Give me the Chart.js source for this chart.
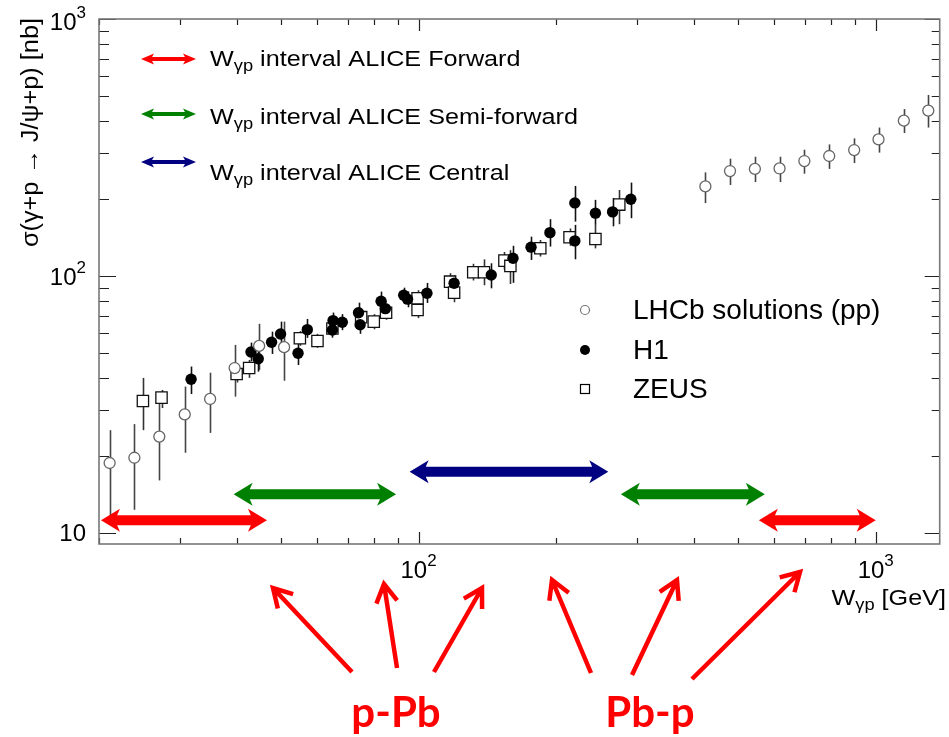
<!DOCTYPE html>
<html>
<head>
<meta charset="utf-8">
<script src="https://cdn.jsdelivr.net/npm/chart.js@4.4.1/dist/chart.umd.min.js"></script>
<style>
  html, body { margin: 0; padding: 0; background: #fff; }
  #wrap { width: 949px; height: 737px; }
</style>
</head>
<body>
<div id="wrap"><canvas class="js-chart" width="949" height="737"></canvas></div>
<script>
const ctx = document.querySelector(".js-chart").getContext("2d");

// ===== axes =====
const X_TICKS = [20, 30, 40, 50, 60, 70, 80, 90, 100, 200, 300, 400, 500, 600, 700, 800, 900, 1000];
const X_LABELS = [100, 1000];
const Y_TICKS = [10, 20, 30, 40, 50, 60, 70, 80, 90, 100, 200, 300, 400, 500, 600, 700, 800, 900, 1000];
const Y_LABELS = [10, 100, 1000];

// ===== LHCb solutions (pp) =====
const LHCB_W = [21.1, 23.9, 27.1, 30.8, 35.0, 39.6, 44.8, 50.8, 424, 480, 544, 616, 698, 791, 897, 1014, 1152, 1303];
const LHCB_SIG = [18.7, 19.6, 23.7, 28.9, 33.2, 43.8, 53.4, 52.8, 223, 256, 261, 262, 280, 293, 309, 340, 402, 440];
const LHCB_LO = [11.6, 12.3, 16.0, 20.5, 24.5, 33.9, 43.1, 39.1, 192, 226, 232, 232, 250, 261, 275, 302, 360, 378];
const LHCB_HI = [25.1, 26.5, 32.9, 37.1, 42.0, 53.9, 65.1, 66.4, 253, 286, 291, 291, 310, 325, 343, 378, 446, 506];

// ===== H1 =====
const H1_W = [31.8, 43.0, 44.6, 47.7, 49.9, 54.5, 57.1, 64.8, 65.0, 68.1, 73.9, 74.5, 82.8, 84.6, 92.8, 94.6,
  104.3, 119.6, 144.2, 160.9, 176.2, 193.8, 219.7, 219.7, 243.7, 265.7, 291.2];
const H1_SIG = [39.6, 50.6, 47.6, 55.2, 59.4, 50.0, 61.8, 61.6, 67.0, 66.0, 71.9, 64.6, 79.7, 74.6, 84.1, 81.2,
  85.6, 93.7, 100.9, 117.2, 129.4, 147.4, 136.9, 192.4, 175.5, 177.5, 198.9];
const H1_LO = [34.7, 46.5, 42.4, 49.7, 53.9, 45.0, 57.4, 57.5, 62.5, 61.5, 66.5, 59.5, 73.5, 69.5, 78.5, 75.5,
  78.5, 87.5, 89.5, 94.0, 115.4, 130.1, 116.1, 162.7, 158.0, 156.0, 167.8];
const H1_HI = [44.4, 55.0, 53.0, 60.7, 66.4, 54.8, 68.0, 66.0, 72.0, 71.0, 78.7, 70.0, 86.9, 80.0, 90.0, 87.0,
  93.9, 100.5, 112.0, 131.0, 142.2, 166.3, 158.0, 224.0, 197.7, 201.0, 230.8];

// ===== ZEUS =====
const ZEUS_W = [24.95, 27.4, 40.0, 42.6, 55.0, 60.1, 64.8, 74.9, 79.8, 84.9, 99.5, 99.5, 117.2, 119.6,
  131.7, 139.0, 154.1, 158.8, 184.6, 213.9, 243.7, 274.8];
const ZEUS_SIG = [32.6, 33.6, 41.5, 43.8, 57.2, 55.8, 62.4, 69.1, 66.4, 71.9, 73.7, 81.9, 95.0, 86.1,
  103.4, 103.4, 114.7, 109.4, 128.2, 141.5, 139.3, 189.5];
const ZEUS_LO = [25.1, 30.6, 38.5, 40.1, 53.5, 52.5, 59.0, 65.0, 62.0, 67.5, 68.5, 76.0, 88.0, 79.0,
  96.0, 92.0, 106.0, 93.0, 119.0, 131.0, 128.0, 159.0];
const ZEUS_HI = [40.1, 36.0, 44.5, 47.1, 61.0, 59.5, 66.0, 73.5, 71.0, 76.5, 79.5, 88.0, 102.5, 93.5,
  111.5, 116.0, 124.0, 126.0, 138.0, 153.0, 158.0, 216.0];

// ===== W_gp intervals covered by ALICE =====
const INTERVAL_NAMES = ["Forward", "Semi-forward", "Central"];
const INTERVAL_LO = [20.2, 39.4, 95.6, 277, 555];
const INTERVAL_HI = [46.6, 89.3, 260, 572, 1000];
const INTERVAL_LEVEL = [11.2, 14.15, 17.3, 14.15, 11.2];
const INTERVAL_KIND = [0, 1, 2, 1, 0];
const INTERVAL_COLORS = ["#ff0000", "#008000", "#000080"];

const FONT = '"Liberation Sans", Arial, sans-serif';
const STRETCH = 1.145;

function toPoints(ws, sigs) {
  return ws.map((w, i) => ({ x: w, y: sigs[i] }));
}

// writes "10" with the exponent as superscript
function drawPower(c, value, x, y, align) {
  const exp = Math.round(Math.log10(value));
  const base = "10";
  const sup = exp === 1 ? "" : String(exp);
  c.font = `24px ${FONT}`;
  const wb = c.measureText(base).width;
  c.font = `17px ${FONT}`;
  const ws = sup ? c.measureText(sup).width : 0;
  const total = wb + ws;
  let x0 = x;
  if (align === "right") x0 = x - total;
  if (align === "center") x0 = x - total / 2;
  c.textAlign = "left";
  c.textBaseline = "middle";
  c.font = `24px ${FONT}`;
  c.fillText(base, x0, y);
  if (sup) {
    c.font = `17px ${FONT}`;
    c.fillText(sup, x0 + wb, y - 10);
  }
}

// text pieces with sub-scripts, stretched sideways like the ROOT fonts
function drawPieces(c, parts, x, y, sx) {
  c.save();
  c.translate(x, y);
  c.scale(sx, 1);
  c.textAlign = "left";
  c.textBaseline = "alphabetic";
  let cx = 0;
  parts.forEach((p) => {
    c.font = `${p.size}px ${FONT}`;
    c.fillText(p.text, cx, p.dy || 0);
    cx += c.measureText(p.text).width;
  });
  c.restore();
}

function piecesWidth(c, parts, sx) {
  let w = 0;
  parts.forEach((p) => {
    c.font = `${p.size}px ${FONT}`;
    w += c.measureText(p.text).width;
  });
  return w * sx;
}

function wgp(rest, size) {
  return [
    { text: "W", size },
    { text: "\u03b3p", size: Math.round(size * 0.72), dy: 5 },
    { text: rest, size },
  ];
}

function doubleArrow(c, x1, x2, y, shaft, headLen, headHalf, color) {
  const join = headLen * 0.85;
  c.save();
  c.fillStyle = color;
  c.beginPath();
  c.moveTo(x1, y);
  c.lineTo(x1 + headLen, y - headHalf);
  c.lineTo(x1 + join, y - shaft / 2);
  c.lineTo(x2 - join, y - shaft / 2);
  c.lineTo(x2 - headLen, y - headHalf);
  c.lineTo(x2, y);
  c.lineTo(x2 - headLen, y + headHalf);
  c.lineTo(x2 - join, y + shaft / 2);
  c.lineTo(x1 + join, y + shaft / 2);
  c.lineTo(x1 + headLen, y + headHalf);
  c.closePath();
  c.fill();
  c.restore();
}

function pointer(c, fx, fy, tx, ty) {
  const ang = Math.atan2(ty - fy, tx - fx);
  const len = 21;
  const spread = Math.PI / 6;
  c.beginPath();
  c.moveTo(fx, fy);
  c.lineTo(tx, ty);
  c.moveTo(tx - len * Math.cos(ang - spread), ty - len * Math.sin(ang - spread));
  c.lineTo(tx, ty);
  c.lineTo(tx - len * Math.cos(ang + spread), ty - len * Math.sin(ang + spread));
  c.stroke();
}

// error bars go under the markers
const errorBars = {
  id: "errorBars",
  beforeDatasetsDraw(chart) {
    const c = chart.ctx;
    const { x, y } = chart.scales;
    chart.data.datasets.forEach((ds) => {
      c.save();
      c.strokeStyle = ds.errColor;
      c.lineWidth = 1.6;
      ds.data.forEach((p, j) => {
        const px = Math.round(x.getPixelForValue(p.x)) + 0.5;
        c.beginPath();
        c.moveTo(px, y.getPixelForValue(ds.errLo[j]));
        c.lineTo(px, y.getPixelForValue(ds.errHi[j]));
        c.stroke();
      });
      c.restore();
    });
  },
};

// frame, inward ticks, labels, ALICE arrows and legends
const decorations = {
  id: "decorations",
  afterDatasetsDraw(chart) {
    const c = chart.ctx;
    const { x, y } = chart.scales;
    INTERVAL_LO.forEach((lo, i) => {
      doubleArrow(c, x.getPixelForValue(lo), x.getPixelForValue(INTERVAL_HI[i]),
        y.getPixelForValue(INTERVAL_LEVEL[i]), 10, 19, 11.5, INTERVAL_COLORS[INTERVAL_KIND[i]]);
    });
  },
  afterDraw(chart) {
    const c = chart.ctx;
    const { left, right, top, bottom } = chart.chartArea;
    const { x, y } = chart.scales;

    c.save();
    // ticks
    c.strokeStyle = "#222";
    c.lineWidth = 1.2;
    X_TICKS.forEach((v) => {
      const px = Math.round(x.getPixelForValue(v)) + 0.5;
      const major = Number.isInteger(Math.log10(v));
      const len = major ? 12 : 6;
      c.beginPath();
      c.moveTo(px, bottom);
      c.lineTo(px, bottom - len);
      c.moveTo(px, top);
      c.lineTo(px, top + len);
      c.stroke();
    });
    Y_TICKS.forEach((v) => {
      const py = Math.round(y.getPixelForValue(v)) + 0.5;
      const major = Number.isInteger(Math.log10(v));
      const len = major ? 17 : 10;
      c.beginPath();
      c.moveTo(left, py);
      c.lineTo(left + len, py);
      c.moveTo(right, py);
      c.lineTo(right - (major ? 15 : 8), py);
      c.stroke();
    });
    // frame
    c.strokeStyle = "#777";
    c.lineWidth = 1.6;
    c.strokeRect(left, top, right - left, bottom - top);

    // tick labels
    c.fillStyle = "#000";
    X_LABELS.forEach((v) => drawPower(c, v, x.getPixelForValue(v), 571, "center"));
    Y_LABELS.forEach((v) => drawPower(c, v, 86, Math.max(y.getPixelForValue(v) + 2, 23), "right"));

    // axis titles
    const xt = wgp(" [GeV]", 22);
    drawPieces(c, xt, 946 - piecesWidth(c, xt, STRETCH), 605, STRETCH);
    c.save();
    c.translate(38, 18);
    c.rotate(-Math.PI / 2);
    c.scale(1.1, 1);
    c.font = `23px ${FONT}`;
    c.textAlign = "right";
    c.textBaseline = "alphabetic";
    c.fillText("\u03c3(\u03b3+p \u2192 J/\u03c8+p) [nb]", 0, 0);
    c.restore();

    // ALICE interval legend
    const rows = [59, 114, 162];
    const textBase = [66, 124, 180];
    INTERVAL_NAMES.forEach((name, i) => {
      doubleArrow(c, 141, 196, rows[i], 4, 13, 5.5, INTERVAL_COLORS[i]);
      c.fillStyle = "#000";
      drawPieces(c, wgp(" interval ALICE " + name, 22), 210, textBase[i], STRETCH);
    });

    // data legend
    const legY = [310, 350, 389];
    c.lineWidth = 1.2;
    c.strokeStyle = "#777";
    c.fillStyle = "#fff";
    c.beginPath();
    c.arc(585, legY[0], 4.5, 0, Math.PI * 2);
    c.fill();
    c.stroke();
    c.fillStyle = "#000";
    c.beginPath();
    c.arc(585, legY[1], 5, 0, Math.PI * 2);
    c.fill();
    c.strokeStyle = "#000";
    c.strokeRect(580.5, legY[2] - 4.5, 9, 9);
    c.font = `28px ${FONT}`;
    c.textAlign = "left";
    c.textBaseline = "middle";
    chart.data.datasets.forEach((ds, i) => c.fillText(ds.label, 633, legY[i] + 1));

    // p-Pb / Pb-p pointers
    c.strokeStyle = "#ff0000";
    c.lineWidth = 4.5;
    c.lineJoin = "miter";
    pointer(c, 352, 672, 273, 588);
    pointer(c, 397, 668, 384, 584);
    pointer(c, 434, 672, 482, 588);
    pointer(c, 591, 673, 552, 580);
    pointer(c, 632, 675, 677, 580);
    pointer(c, 692, 679, 800, 572);
    c.fillStyle = "#ff0000";
    c.font = 'bold 42px Lato, "Open Sans", sans-serif';
    c.textAlign = "center";
    c.textBaseline = "alphabetic";
    c.fillText("p-Pb", 396, 727);
    c.fillText("Pb-p", 650, 727);
    c.restore();
  },
};

new Chart(ctx, {
  type: "scatter",
  data: {
    datasets: [
      {
        label: "LHCb solutions (pp)",
        data: toPoints(LHCB_W, LHCB_SIG),
        errLo: LHCB_LO,
        errHi: LHCB_HI,
        errColor: "#444",
        pointStyle: "circle",
        radius: 5.5,
        hoverRadius: 5.5,
        backgroundColor: "#fff",
        borderColor: "#666",
        borderWidth: 1.3,
      },
      {
        label: "H1",
        data: toPoints(H1_W, H1_SIG),
        errLo: H1_LO,
        errHi: H1_HI,
        errColor: "#111",
        pointStyle: "circle",
        radius: 5.7,
        hoverRadius: 5.7,
        backgroundColor: "#000",
        borderColor: "#000",
        borderWidth: 0,
      },
      {
        label: "ZEUS",
        data: toPoints(ZEUS_W, ZEUS_SIG),
        errLo: ZEUS_LO,
        errHi: ZEUS_HI,
        errColor: "#333",
        pointStyle: "rect",
        radius: 8,
        hoverRadius: 8,
        backgroundColor: "#fff",
        borderColor: "#111",
        borderWidth: 1.3,
      },
    ],
  },
  options: {
    responsive: false,
    animation: false,
    events: [],
    layout: { padding: { left: 99, right: 4, top: 19, bottom: 193 } },
    plugins: { legend: { display: false }, tooltip: { enabled: false } },
    scales: {
      x: { type: "logarithmic", min: 20, max: 1380, display: false },
      y: { type: "logarithmic", min: 9.05, max: 1000, display: false },
    },
  },
  plugins: [errorBars, decorations],
});
</script>
</body>
</html>
